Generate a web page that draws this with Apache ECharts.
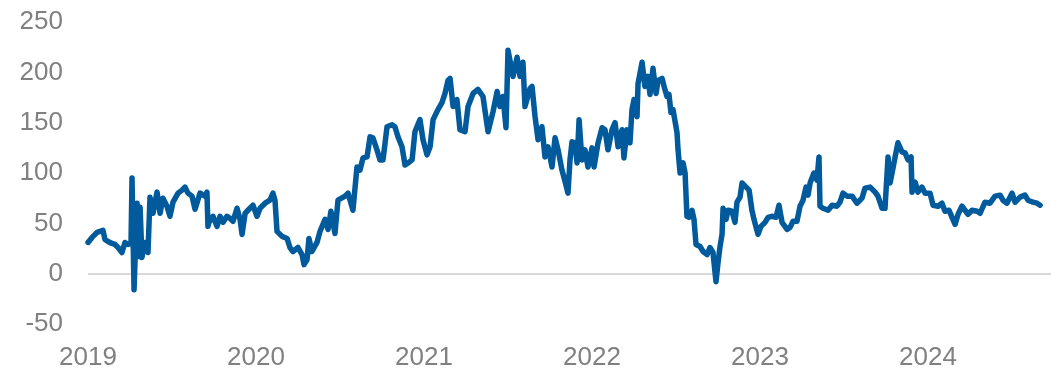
<!DOCTYPE html>
<html>
<head>
<meta charset="utf-8">
<script src="https://cdn.jsdelivr.net/npm/echarts@6/dist/echarts.min.js"></script>
<style>
  html, body { margin: 0; padding: 0; background: #fff; }
  #main { width: 1051px; height: 368px; }
</style>
</head>
<body>
<div id="main"></div>
<script>
// dates as decimal years
var years = [
  2019.000, 2019.024, 2019.054, 2019.089, 2019.101, 2019.119, 2019.143, 2019.161, 2019.179, 2019.202,
  2019.220, 2019.238, 2019.256, 2019.262, 2019.274, 2019.292, 2019.298, 2019.310, 2019.321, 2019.339,
  2019.357, 2019.369, 2019.387, 2019.411, 2019.429, 2019.446, 2019.470, 2019.488, 2019.506, 2019.536,
  2019.560, 2019.577, 2019.595, 2019.619, 2019.637, 2019.667, 2019.696, 2019.708, 2019.714, 2019.720,
  2019.744, 2019.768, 2019.786, 2019.804, 2019.827, 2019.845, 2019.863, 2019.887, 2019.905, 2019.917,
  2019.935, 2019.952, 2019.982, 2020.006, 2020.024, 2020.054, 2020.083, 2020.101, 2020.113, 2020.125,
  2020.155, 2020.185, 2020.202, 2020.220, 2020.250, 2020.274, 2020.286, 2020.304, 2020.315, 2020.333,
  2020.363, 2020.381, 2020.411, 2020.429, 2020.446, 2020.470, 2020.488, 2020.530, 2020.548, 2020.577,
  2020.601, 2020.619, 2020.637, 2020.661, 2020.679, 2020.696, 2020.720, 2020.738, 2020.756, 2020.780,
  2020.810, 2020.827, 2020.845, 2020.869, 2020.887, 2020.905, 2020.929, 2020.946, 2020.976, 2020.994,
  2021.018, 2021.036, 2021.054, 2021.083, 2021.107, 2021.125, 2021.143, 2021.155, 2021.173, 2021.196,
  2021.214, 2021.244, 2021.262, 2021.292, 2021.321, 2021.351, 2021.381, 2021.411, 2021.435, 2021.452,
  2021.470, 2021.488, 2021.500, 2021.530, 2021.554, 2021.571, 2021.589, 2021.601, 2021.631, 2021.643,
  2021.661, 2021.679, 2021.702, 2021.720, 2021.738, 2021.762, 2021.780, 2021.798, 2021.821, 2021.839,
  2021.857, 2021.869, 2021.881, 2021.899, 2021.911, 2021.923, 2021.940, 2021.958, 2021.976, 2022.000,
  2022.012, 2022.036, 2022.060, 2022.077, 2022.095, 2022.119, 2022.137, 2022.155, 2022.167, 2022.179,
  2022.190, 2022.208, 2022.226, 2022.238, 2022.250, 2022.268, 2022.274, 2022.298, 2022.315, 2022.333,
  2022.345, 2022.363, 2022.381, 2022.393, 2022.417, 2022.429, 2022.446, 2022.458, 2022.470, 2022.482,
  2022.506, 2022.512, 2022.524, 2022.542, 2022.554, 2022.565, 2022.577, 2022.595, 2022.607, 2022.619,
  2022.643, 2022.661, 2022.685, 2022.702, 2022.720, 2022.738, 2022.750, 2022.762, 2022.774, 2022.780,
  2022.798, 2022.810, 2022.833, 2022.851, 2022.863, 2022.881, 2022.893, 2022.917, 2022.935, 2022.952,
  2022.964, 2022.988, 2023.006, 2023.030, 2023.048, 2023.071, 2023.095, 2023.113, 2023.131, 2023.161,
  2023.179, 2023.196, 2023.220, 2023.238, 2023.256, 2023.274, 2023.286, 2023.298, 2023.321, 2023.339,
  2023.351, 2023.357, 2023.375, 2023.405, 2023.429, 2023.458, 2023.476, 2023.494, 2023.518, 2023.548,
  2023.577, 2023.607, 2023.625, 2023.655, 2023.685, 2023.702, 2023.726, 2023.744, 2023.762, 2023.774,
  2023.786, 2023.804, 2023.821, 2023.845, 2023.863, 2023.881, 2023.899, 2023.905, 2023.923, 2023.940,
  2023.964, 2023.982, 2024.012, 2024.030, 2024.060, 2024.083, 2024.101, 2024.125, 2024.143, 2024.161,
  2024.179, 2024.202, 2024.220, 2024.238, 2024.262, 2024.292, 2024.310, 2024.339, 2024.369, 2024.399,
  2024.429, 2024.446, 2024.470, 2024.500, 2024.518, 2024.548, 2024.577, 2024.595, 2024.625, 2024.649,
  2024.667
];

var values = [
  31, 36, 41, 43, 34, 32, 30, 29, 26, 21,
  31, 29, 30, 95, -16, 70, 17, 66, 16, 31,
  21, 76, 60, 81, 60, 75, 67, 57, 71, 80,
  83, 86, 80, 77, 64, 80, 77, 81, 47, 51,
  57, 47, 57, 51, 57, 55, 52, 65, 54, 39,
  60, 63, 68, 57, 65, 70, 73, 80, 73, 42,
  37, 35, 26, 22, 26, 19, 9, 14, 35, 22,
  31, 42, 54, 44, 62, 40, 73, 77, 80, 63,
  106, 103, 115, 116, 136, 135, 123, 113, 113, 146,
  148, 146, 136, 126, 108, 110, 113, 141, 153, 133,
  118, 126, 153, 163, 170, 179, 192, 194, 166, 173,
  143, 141, 166, 179, 183, 176, 141, 161, 181, 166,
  176, 145, 222, 196, 215, 196, 210, 166, 184, 186,
  156, 133, 146, 116, 126, 106, 135, 123, 103, 92,
  80, 113, 131, 130, 110, 153, 113, 123, 106, 125,
  106, 130, 145, 143, 123, 143, 150, 126, 136, 143,
  115, 143, 130, 163, 173, 156, 189, 210, 186, 196,
  178, 204, 179, 192, 194, 186, 176, 178, 160, 163,
  140, 123, 100, 110, 100, 57, 56, 63, 54, 29,
  27, 22, 19, 26, 21, -8, 11, 27, 39, 65,
  54, 63, 62, 51, 71, 76, 90, 86, 83, 63,
  54, 39, 47, 51, 56, 57, 56, 68, 51, 44,
  46, 52, 52, 67, 73, 86, 78, 90, 100, 93,
  116, 67, 65, 63, 68, 67, 71, 80, 77, 77,
  70, 75, 85, 86, 81, 77, 65, 65, 116, 90,
  100, 116, 130, 121, 120, 113, 116, 81, 91, 81,
  86, 80, 80, 68, 67, 70, 62, 63, 56, 49,
  59, 67, 63, 59, 63, 62, 60, 71, 70, 77,
  78, 73, 70, 80, 71, 76, 78, 73, 71, 70,
  68
];

var yTicks = [-50, 0, 50, 100, 150, 200, 250];

var points = years.map(function (y, i) { return [y, values[i]]; });

var chart = echarts.init(document.getElementById('main'));

var option = {
    animation: false,
    grid: {
        left: 88,
        right: 0,
        top: 22,
        bottom: 44,
        containLabel: false,
        outerBoundsMode: 'none',
    },
    xAxis: {
        type: 'value',
        min: 2019,
        max: 2024.732,
        interval: 1,
        axisLine: { show: false },
        axisTick: { show: false },
        splitLine: { show: false },
        axisLabel: {
            color: '#808080',
            fontSize: 26,
            fontFamily: 'Liberation Sans, Arial, sans-serif',
            margin: 21,
            showMaxLabel: false,
            formatter: function (v) {
                return Math.abs(v - Math.round(v)) < 1e-6 ? String(Math.round(v)) : '';
            },
        },
    },
    yAxis: {
        type: 'value',
        min: yTicks[0],
        max: yTicks[yTicks.length - 1],
        interval: 50,
        axisLine: { show: false },
        axisTick: { show: false },
        splitLine: { show: false },
        axisLabel: {
            color: '#808080',
            fontSize: 26,
            fontFamily: 'Liberation Sans, Arial, sans-serif',
            margin: 25,
        },
    },
    series: [{
        type: 'line',
        data: points,
        showSymbol: false,
        symbol: 'none',
        lineStyle: {
            color: '#005a9c',
            width: 5.5,
            cap: 'round',
            join: 'round',
        },
        markLine: {
            silent: true,
            symbol: 'none',
            label: { show: false },
            lineStyle: { color: '#d9d9d9', width: 2, type: 'solid' },
            data: [{ yAxis: 0 }],
            z: 1,
        },
        z: 3,
    }],
};

option && chart.setOption(option);
</script>
</body>
</html>
